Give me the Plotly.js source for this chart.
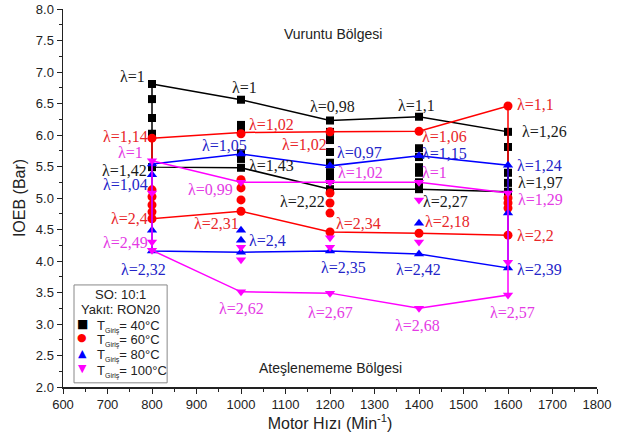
<!DOCTYPE html>
<html>
<head>
<meta charset="utf-8">
<script src="https://cdn.plot.ly/plotly-3.0.1.min.js"></script>
<style>html,body{margin:0;padding:0;background:#fff;}#chart{width:630px;height:439px;}</style>
</head>
<body>
<div id="chart"></div>
<script>
// ---- data ----
const rpm = [800, 1000, 1200, 1400, 1600];

// knock-limit (upper) and misfire-limit (lower) IOEB values, bar
const upper40 = [6.81, 6.56, 6.23, 6.29, 6.05];
const lower40 = [5.49, 5.48, 5.14, 5.14, 5.10];
const upper60 = [5.95, 6.04, 6.05, 6.06, 6.46];
const lower60 = [4.67, 4.79, 4.46, 4.44, 4.41];
const upper80 = [5.54, 5.70, 5.51, 5.67, 5.52];
const lower80 = [4.16, 4.14, 4.16, 4.11, 3.89];
const upper100 = [5.59, 5.25, 5.25, 5.25, 5.08];
const lower100 = [4.17, 3.51, 3.49, 3.25, 3.46];

// lambda sweep points (rpm, IOEB)
const sweep40Rpm  = [800,800,800,800,800, 1000,1000,1000,1000,1000,1000, 1200,1200,1200,1200,1200,1200,1200,1200, 1400,1400,1400,1400,1400,1400,1400, 1600,1600,1600,1600,1600];
const sweep40Ioeb = [6.81,6.57,6.27,6.02,5.49, 6.56,6.16,6.08,5.71,5.62,5.48, 6.23,6.05,5.92,5.73,5.56,5.41,5.29,5.14, 6.29,5.79,5.65,5.49,5.40,5.25,5.14, 6.05,5.81,5.40,5.24,5.10];
const sweep60Rpm  = [800,800,800,800,800,800, 1000,1000,1000,1000,1000, 1200,1200,1200,1200,1200, 1400,1400, 1600,1600,1600,1600,1600];
const sweep60Ioeb = [5.95,5.13,5.02,4.89,4.78,4.67, 6.02,5.29,5.16,4.97,4.79, 6.05,5.08,4.92,4.76,4.46, 6.06,4.44, 6.46,5.00,4.92,4.84,4.41];
const sweep80Rpm  = [800,800,800,800, 1000,1000,1000,1000, 1200,1200, 1400,1400,1400, 1600,1600,1600];
const sweep80Ioeb = [5.54,5.37,4.49,4.16, 5.70,4.49,4.33,4.14, 5.51,4.16, 5.67,4.60,4.11, 5.52,4.76,3.89];
const sweep100Rpm  = [800,800,800,800, 1000,1000,1000,1000, 1200,1200,1200,1200, 1400,1400,1400,1400, 1600,1600,1600];
const sweep100Ioeb = [5.59,5.08,4.30,4.17, 5.25,4.22,4.02,3.51, 5.25,4.37,4.22,3.49, 5.25,4.97,4.30,3.25, 5.08,3.98,3.46];

// lambda labels at the upper and lower limits
const lamUpper40 = ["λ=1","λ=1","λ=0,98","λ=1,1","λ=1,26"];
const lamLower40 = ["λ=1,42","λ=1,43","λ=2,22","λ=2,27","λ=1,97"];
const lamUpper60 = ["λ=1,14","λ=1,02","λ=1,02","λ=1,06","λ=1,1"];
const lamLower60 = ["λ=2,4","λ=2,31","λ=2,34","λ=2,18","λ=2,2"];
const lamUpper80 = ["λ=1,04","λ=1,05","λ=0,97","λ=1,15","λ=1,24"];
const lamLower80 = ["λ=2,32","λ=2,4","λ=2,35","λ=2,42","λ=2,39"];
const lamUpper100 = ["λ=1","λ=0,99","λ=1,02","λ=1","λ=1,29"];
const lamLower100 = ["λ=2,49","λ=2,62","λ=2,67","λ=2,68","λ=2,57"];

const seriesTemps = ["40°C", "60°C", "80°C", "100°C"];
const legendTitleLines = ["SO: 10:1", "Yakıt: RON20"];

// ---- styles ----
const series = [
  {up: upper40, lo: lower40, sr: sweep40Rpm, sv: sweep40Ioeb, lu: lamUpper40, ll: lamLower40, color:'#000000', text:'#1a1a1a', symbol:'square', size:8, glyph:'■', gsize:12},
  {up: upper60, lo: lower60, sr: sweep60Rpm, sv: sweep60Ioeb, lu: lamUpper60, ll: lamLower60, color:'#ff0000', text:'#e8262a', symbol:'circle', size:9, glyph:'●', gsize:11},
  {up: upper80, lo: lower80, sr: sweep80Rpm, sv: sweep80Ioeb, lu: lamUpper80, ll: lamLower80, color:'#0000ff', text:'#2424c8', symbol:'triangle-up', size:9, glyph:'▲', gsize:11},
  {up: upper100, lo: lower100, sr: sweep100Rpm, sv: sweep100Ioeb, lu: lamUpper100, ll: lamLower100, color:'#ff00ff', text:'#e43ae4', symbol:'triangle-down', size:9, glyph:'▼', gsize:11}
];

// label offsets (dx in rpm, dy in bar, anchor) for upper / lower labels per series
const upOff = [
  [[-12,0.12,'right'],[7,0.20,'center'],[5,0.22,'center'],[-5,0.18,'center'],[27,0.01,'left']],
  [[-5,0.03,'right'],[13,0.13,'left'],[-2,-0.20,'right'],[3,-0.08,'left'],[15,0.02,'left']],
  [[-5,-0.32,'right'],[-37,0.13,'center'],[12,0.22,'left'],[2,0.04,'left'],[15,0.0,'left']],
  [[-16,0.13,'right'],[-14,-0.12,'right'],[13,0.15,'left'],[2,0.15,'left'],[17,-0.10,'left']]
];
const loOff = [
  [[-7,-0.06,'right'],[13,0.03,'left'],[-6,-0.20,'right'],[5,-0.20,'left'],[18,0.14,'left']],
  [[-5,0.0,'right'],[-54,-0.20,'center'],[10,0.14,'left'],[10,0.18,'left'],[15,0.0,'left']],
  [[-18,-0.29,'center'],[13,0.18,'left'],[31,-0.27,'center'],[-2,-0.25,'center'],[15,-0.02,'left']],
  [[-5,0.12,'right'],[0,-0.26,'center'],[2,-0.30,'center'],[-4,-0.27,'center'],[9,-0.27,'center']]
];

const labelFont = 'Liberation Serif, Times New Roman, serif';
const sansFont = 'Liberation Sans, Arial, sans-serif';

const traces = [];
const annotations = [];
series.forEach((s, i) => {
  const lx = rpm.concat(rpm.slice().reverse(), [rpm[0]]);
  const ly = s.up.concat(s.lo.slice().reverse(), [s.up[0]]);
  traces.push({x: lx, y: ly, mode: 'lines', line: {color: s.color, width: 1.5}, showlegend: false, hoverinfo: 'skip', type: 'scatter'});
  traces.push({x: s.sr, y: s.sv, mode: 'markers', name: 'T Giriş = ' + seriesTemps[i], type: 'scatter', showlegend: false,
    marker: {color: s.color, symbol: s.symbol, size: s.size, line: {width: 0}}});
  rpm.forEach((r, j) => {
    const ou = upOff[i][j], ol = loOff[i][j];
    annotations.push({x: r + ou[0], y: s.up[j] + ou[1], text: s.lu[j], xanchor: ou[2], yanchor: 'middle', showarrow: false,
      font: {family: labelFont, size: 16, color: s.text}});
    annotations.push({x: r + ol[0], y: s.lo[j] + ol[1], text: s.ll[j], xanchor: ol[2], yanchor: 'middle', showarrow: false,
      font: {family: labelFont, size: 16, color: s.text}});
  });
});

annotations.push({x: 1207, y: 7.6, text: 'Vuruntu Bölgesi', showarrow: false, xanchor: 'center', yanchor: 'middle',
  font: {family: sansFont, size: 14, color: '#222'}});
annotations.push({x: 1202, y: 2.3, text: 'Ateşlenememe Bölgesi', showarrow: false, xanchor: 'center', yanchor: 'middle',
  font: {family: sansFont, size: 14, color: '#222'}});

// ---- hand-built legend box (paper coordinates) ----
const legTitleY = [0.246, 0.205];
legendTitleLines.forEach((t, k) => {
  annotations.push({xref: 'paper', yref: 'paper', x: 0.107, y: legTitleY[k], text: t, showarrow: false,
    xanchor: 'center', yanchor: 'middle', font: {family: sansFont, size: 13, color: '#222'}});
});
const legItemY = [0.167, 0.130, 0.089, 0.048];
series.forEach((s, i) => {
  annotations.push({xref: 'paper', yref: 'paper', x: 0.036, y: legItemY[i], text: s.glyph, showarrow: false,
    xanchor: 'center', yanchor: 'middle', font: {family: 'DejaVu Sans, sans-serif', size: s.gsize, color: s.color}});
  annotations.push({xref: 'paper', yref: 'paper', x: 0.060, y: legItemY[i] - 0.006,
    text: "T<sub><span style='font-size:7px'>Giriş</span></sub>= " + seriesTemps[i], showarrow: false,
    xanchor: 'left', yanchor: 'middle', font: {family: sansFont, size: 13, color: '#222'}});
});

const axFont = {family: sansFont, size: 13, color: '#222'};
const layout = {
  width: 630, height: 439,
  margin: {l: 63, r: 33, t: 9, b: 52},
  paper_bgcolor: '#fff', plot_bgcolor: '#fff',
  showlegend: false,
  shapes: [{type: 'rect', xref: 'paper', yref: 'paper', x0: 0.0206, x1: 0.195, y0: 0.011, y1: 0.27,
    line: {color: '#888', width: 1}, fillcolor: 'rgba(255,255,255,0)', layer: 'above'}],
  xaxis: {range: [600, 1800], dtick: 100, tick0: 600, ticks: 'outside', ticklen: 5, tickwidth: 1, tickcolor: '#222',
    showline: true, linecolor: '#222', linewidth: 1.5, showgrid: false, zeroline: false, tickfont: axFont,
    minor: {dtick: 50, ticks: 'outside', ticklen: 3, tickcolor: '#222'},
    title: {text: 'Motor Hızı (Min<sup>-1</sup>)', font: {family: sansFont, size: 16, color: '#222'}, standoff: 4}},
  yaxis: {range: [2, 8], dtick: 0.5, tick0: 2, tickformat: '.1f', ticks: 'outside', ticklen: 5, tickwidth: 1, tickcolor: '#222',
    showline: true, linecolor: '#222', linewidth: 1.5, showgrid: false, zeroline: false, tickfont: axFont,
    minor: {dtick: 0.25, ticks: 'outside', ticklen: 3, tickcolor: '#222'},
    title: {text: 'IOEB (Bar)', font: {family: sansFont, size: 16, color: '#222'}, standoff: 6}},
  xaxis2: {overlaying: 'x', side: 'top', range: [600, 1800], dtick: 100, tick0: 600, ticks: 'inside', ticklen: 5, tickcolor: '#222',
    showticklabels: false, showline: true, linecolor: '#222', linewidth: 1.5, showgrid: false, zeroline: false,
    minor: {dtick: 50, ticks: 'inside', ticklen: 3, tickcolor: '#222'}},
  yaxis2: {overlaying: 'y', side: 'right', range: [2, 8], dtick: 0.5, tick0: 2, ticks: 'inside', ticklen: 5, tickcolor: '#222',
    showticklabels: false, showline: true, linecolor: '#222', linewidth: 1.5, showgrid: false, zeroline: false,
    minor: {dtick: 0.25, ticks: 'inside', ticklen: 3, tickcolor: '#222'}},
  annotations: annotations
};

Plotly.newPlot('chart', traces, layout, {displayModeBar: false, staticPlot: true});
</script>
</body>
</html>
